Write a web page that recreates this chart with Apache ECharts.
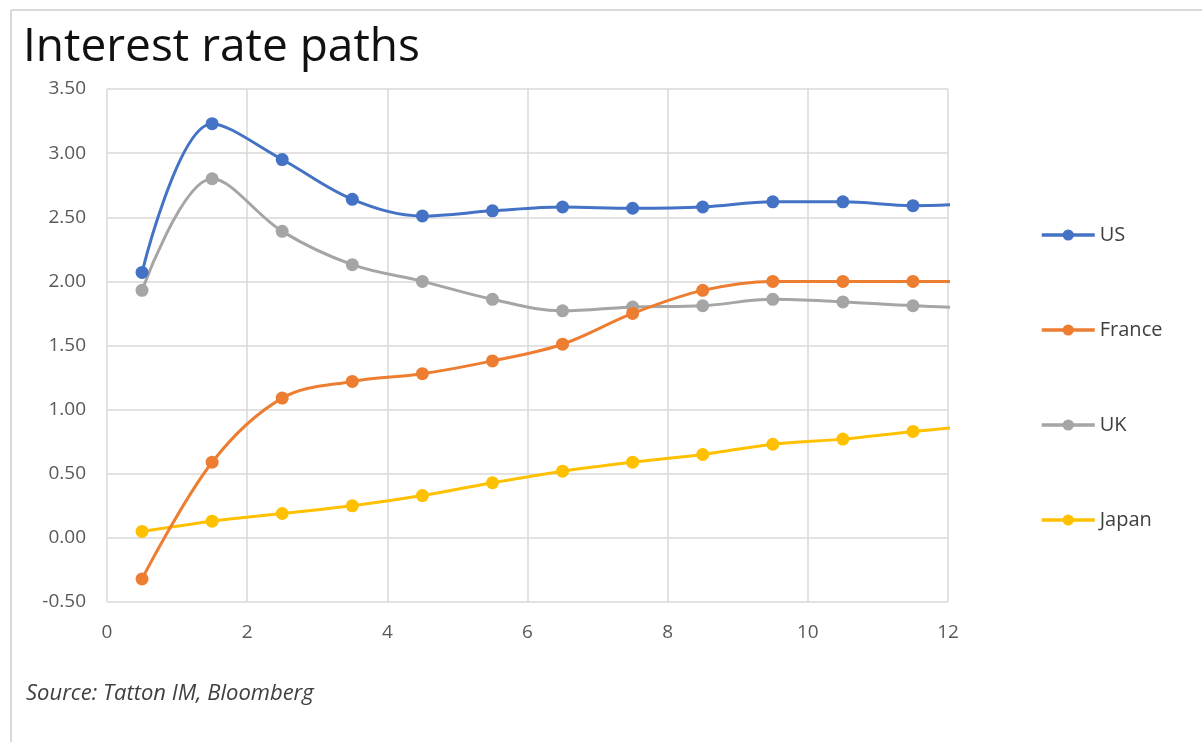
<!DOCTYPE html>
<html>
<head>
<meta charset="utf-8">
<title>Interest rate paths</title>
<script src="https://cdn.jsdelivr.net/npm/echarts@6/dist/echarts.min.js"></script>
<style>
  html, body { margin: 0; padding: 0; background: #ffffff; }
  #chart { width: 1202px; height: 742px; }
</style>
</head>
<body>
<div id="chart"></div>
<script>
// Horizon in years (last point lies past the axis end and is clipped)
const years = [0.5, 1.5, 2.5, 3.5, 4.5, 5.5, 6.5, 7.5, 8.5, 9.5, 10.5, 11.5, 12.5];

// Implied policy-rate paths, %
const usRates     = [2.07, 3.23, 2.95, 2.64, 2.51, 2.55, 2.58, 2.57, 2.58, 2.62, 2.62, 2.59, 2.61];
const franceRates = [-0.32, 0.59, 1.09, 1.22, 1.28, 1.38, 1.51, 1.75, 1.93, 2.00, 2.00, 2.00, 2.00];
const ukRates     = [1.93, 2.80, 2.39, 2.13, 2.00, 1.86, 1.77, 1.80, 1.81, 1.86, 1.84, 1.81, 1.79];
const japanRates  = [0.05, 0.13, 0.19, 0.25, 0.33, 0.43, 0.52, 0.59, 0.65, 0.73, 0.77, 0.83, 0.88];

const seriesNames  = ['US', 'France', 'UK', 'Japan'];
const seriesValues = [usRates, franceRates, ukRates, japanRates];
const seriesColors = ['#4472C4', '#ED7D31', '#A5A5A5', '#FFC000'];

const xTicks = { min: 0, max: 12, step: 2 };
const yTicks = { min: -0.5, max: 3.5, step: 0.5 };

const chart = echarts.init(document.getElementById('chart'), null, { renderer: 'canvas' });

const pairs = vals => years.map((x, i) => [x, vals[i]]);

const series = seriesNames.map((name, i) => ({
  name,
  type: 'line',
  data: pairs(seriesValues[i]),
  smooth: 0.35,
  clip: true,
  symbol: 'circle',
  symbolSize: 13,
  showAllSymbol: true,
  lineStyle: { color: seriesColors[i], width: 3 },
  itemStyle: { color: seriesColors[i] },
  emphasis: { disabled: true },
  z: 10 - i
}));

// One legend block per series so each entry sits at its own height
const legendTops = [225, 320, 415, 510];
const legends = seriesNames.map((name, i) => ({
  data: [name],
  orient: 'vertical',
  left: 1040,
  top: legendTops[i],
  padding: 0,
  itemWidth: 53,
  itemHeight: 14,
  itemGap: 0,
  selectedMode: false,
  lineStyle: { width: 3.5 },
  textStyle: { fontFamily: 'Open Sans', fontSize: 20, color: '#404040' }
}));

chart.setOption({
  animation: false,
  backgroundColor: '#ffffff',
  title: {
    text: 'Interest rate paths',
    left: 23,
    top: 25,
    padding: 0,
    textStyle: { fontFamily: 'Open Sans', fontSize: 46, fontWeight: 'normal', color: '#111111' }
  },
  legend: legends,
  grid: { left: 107, right: 254, top: 89, bottom: 140, containLabel: false },
  xAxis: {
    type: 'value',
    min: xTicks.min,
    max: xTicks.max,
    interval: xTicks.step,
    axisLine: { show: false },
    axisTick: { show: false },
    splitLine: { show: true, lineStyle: { color: '#D9D9D9', width: 1.5 } },
    axisLabel: { fontFamily: 'Open Sans', fontSize: 19, color: '#595959', margin: 21 }
  },
  yAxis: {
    type: 'value',
    min: yTicks.min,
    max: yTicks.max,
    interval: yTicks.step,
    axisLine: { show: false },
    axisTick: { show: false },
    splitLine: { show: true, lineStyle: { color: '#D9D9D9', width: 1.5 } },
    axisLabel: {
      fontFamily: 'Open Sans', fontSize: 19, color: '#595959', margin: 21,
      formatter: v => v.toFixed(2)
    }
  },
  series,
  graphic: [
    { type: 'line', shape: { x1: 11, y1: 10, x2: 1202, y2: 10 }, style: { stroke: '#D9D9D9', lineWidth: 2 }, silent: true },
    { type: 'line', shape: { x1: 11, y1: 10, x2: 11, y2: 742 }, style: { stroke: '#D9D9D9', lineWidth: 2 }, silent: true },
    {
      type: 'text', left: 26, top: 683, silent: true,
      style: { text: 'Source: Tatton IM, Bloomberg', fontFamily: 'Open Sans', fontStyle: 'italic', fontSize: 22, fill: '#404040' }
    }
  ]
});
</script>
</body>
</html>
